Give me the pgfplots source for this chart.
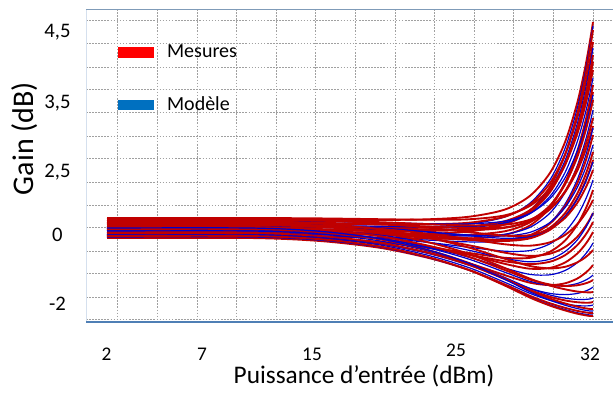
\documentclass[border=0pt]{standalone}
\usepackage{fontspec}
\setmainfont{Carlito}
\usepackage{pgfplots}
\usepackage{pgfplotstable}
\pgfplotsset{compat=1.18}
\definecolor{mred}{HTML}{C00000}
\definecolor{mblue}{HTML}{0000CC}
\definecolor{legred}{HTML}{FF0000}
\definecolor{legblue}{HTML}{0070C0}
\definecolor{gridgray}{HTML}{A0A0A0}
\definecolor{axblue}{HTML}{4F7FB5}
\definecolor{topblue}{HTML}{7F9BB8}
\definecolor{leftblue}{HTML}{D5E0EE}

% x = horizontal chart position, r = measured curves, b = model curves (vertical position, downward)
\pgfplotstableread{
x r1 r2 r3 r4 r5 r6 r7 r8 r9 r10 r11 r12 r13 r14 r15 r16 r17 r18 r19 r20 r21 r22 b1 b2 b3 b4 b5 b6 b7 b8 b9 b10 b11 b12 b13 b14 r23 r24 r25 r26 r27 r28 b15 b16 b17
107 220 234 224 230 218 236 226 222 232 228 219 237 225 231 221 235 227 223 233 229 238 236 227 229 225 231 226 233 228 230 229 234 231 235 228 237 227 233 220 230 224 236 221 235 224
250 220 234 224 230 218 236 226 222 232 228 219 237 225 231 221 235 227 223 233 229 238 236 227 229 225 231 226 233 228 230 229 234 231 235 228 237 227 233 220 230 224 236 221 235 224
320 220 234.1 224.2 230.2 218.4 236.5 226.6 222.8 232.9 229.1 220.4 238.6 227.0 233.3 223.6 237.7 229.8 225.9 236.0 232.2 241.0 239.2 227.0 229.2 225.4 231.7 227.0 234.5 230.2 232.6 231.9 237.0 234.0 238.1 231.3 240.1 227.2 233.4 220.7 231.0 225.5 237.8 221.5 235.8 225.2
380 220 234.3 224.5 230.8 219.2 237.6 228.0 224.5 235.0 231.6 223.4 242.3 231.5 238.5 229.3 243.8 236.2 232.5 242.8 239.4 247.8 246.4 227.1 229.7 226.3 233.2 229.3 237.8 235.2 238.6 238.4 243.6 240.9 245.0 238.8 247.1 227.7 234.3 222.2 233.4 228.9 242.0 222.6 237.7 228.0
430 219.2 233.7 224.3 230.9 219.8 238.6 229.5 226.6 237.7 235.1 227.9 247.7 238.3 246.4 238.1 253.2 246.1 242.7 253.2 250.6 258.3 257.6 226.5 229.6 227.1 235.0 232.3 242.6 242.6 247.6 248.3 253.9 251.5 255.8 250.4 258.1 227.7 235.1 224.2 236.6 234.0 248.2 223.7 240.2 232.0
470 216.6 231.4 222.6 229.5 219.2 238.4 230.1 228.1 239.9 238.3 232.2 253.1 245.5 255.0 247.9 263.6 257.2 254.3 265.2 263.4 270.3 270.4 224.0 228.0 226.6 236.0 235.0 247.4 250.5 257.5 259.5 265.5 263.5 268.0 263.7 270.5 226.3 234.7 225.4 239.6 239.3 254.8 223.8 241.9 235.8
505 209.5 224.3 216.6 224.1 215.3 234.8 227.8 227.3 239.9 239.9 235.7 257.8 252.7 263.9 258.8 275.2 270.1 268.1 279.2 278.6 284.5 285.6 216.9 222.2 222.9 234.2 235.9 251.2 258.4 268.1 272.3 278.8 277.6 282.4 279.5 285.4 221.1 231.2 224.7 241.0 244.3 261.3 221.1 241.2 238.3
530 195.8 210.4 204.4 212.5 205.8 225.4 220.4 221.6 235.1 236.9 235.1 257.8 255.9 268.7 266.0 282.7 279.5 278.7 290.0 290.6 295.8 297.6 203.1 210.2 213.6 227.3 232.3 250.5 261.8 274.4 281.3 288.4 288.4 293.4 291.9 297.1 210.1 222.3 219.6 238.3 245.7 264.1 213.4 235.6 236.5
550 172.9 186.7 183.2 192.1 188.5 207.7 205.5 209.3 223.5 227.6 228.8 251.7 253.7 267.9 268.4 285.1 284.5 285.6 296.8 298.6 303.3 305.6 179.8 189.1 196.3 213.0 222.5 243.8 259.2 274.8 285.5 293.4 295.0 300.3 300.2 304.9 190.9 205.8 208.4 229.8 242.3 261.7 198.6 222.8 228.8
565 142.2 154.9 154.6 164.5 164.7 183.1 184.5 191.3 206.2 213.2 218.0 240.6 247.1 262.5 266.8 283.3 286.0 289.3 300.4 303.4 307.8 310.4 148.5 160.6 172.6 192.6 207.6 232.0 251.6 270.5 285.7 294.6 298.1 303.9 305.2 309.5 164.8 183.0 192.2 216.5 235.0 255.2 177.9 204.2 216.3
577 103.8 115.0 118.7 129.6 134.6 152.0 157.8 168.2 183.9 194.1 203.3 225.1 237.1 253.8 262.5 278.7 285.3 291.5 302.2 306.6 310.8 313.6 109.4 124.7 142.5 166.5 188.0 216.1 240.3 262.9 283.6 293.5 299.4 305.6 308.5 312.7 132.1 154.1 171.3 198.9 224.5 245.4 151.6 180.2 199.5
585 68.3 78.2 85.5 97.3 106.6 123.0 132.9 146.6 162.9 176.1 189.1 210.2 227.0 244.8 257.6 273.2 283.5 292.2 302.7 308.2 312.3 315.2 73.3 91.5 114.6 142.1 169.6 200.7 228.8 254.7 280.4 291.2 299.4 305.9 310.2 314.2 101.8 127.2 151.8 182.2 214.1 235.6 127.2 157.7 183.5
590 40.8 49.6 59.7 72.2 84.9 100.5 113.4 129.7 146.4 161.9 177.9 198.4 218.9 237.4 253.3 268.6 281.7 292.4 302.6 309 313 316 45.2 65.7 92.9 123.1 155.1 188.6 219.7 248.0 277.5 289.0 298.9 305.7 311 315 78.1 106.3 136.5 169.1 205.9 227.7 108.1 140.2 170.8
593 22 30 42 55 70 85 100 118 135 152 170 190 213 232 250 265 280 292 302 309 313 316 26 48 78 110 145 180 213 243 275 287 298 305 311 315 62 92 126 160 200 222 95 128 162
}\curves

\pgfplotsset{
  meas/.style={mred, line width=1.4pt, forget plot},
  modl/.style={mblue, line width=0.9pt, forget plot},
}

\begin{document}
\begin{tikzpicture}
\path[use as bounding box] (0pt,0pt) rectangle (459.75pt,303.75pt);
\begin{axis}[
  at={(64.5pt,62.25pt)}, anchor=south west,
  scale only axis, width=395.25pt, height=234.75pt,
  xmin=86, xmax=613, ymin=9, ymax=322, y dir=reverse,
  axis line style={draw=none},
  xtick={106.5,202,312,456,590},
  xticklabels={2,7,15,\raisebox{3pt}{25},32},
  ytick={37,108,177,241,310},
  yticklabels={{4,5},{3,5},{2,5},0,-2},
  major tick length=0pt, minor tick length=0pt,
  minor xtick={117.7,157.3,196.9,236.5,276.1,315.7,355.3,394.9,434.5,474.1,513.7,553.3,592.9},
  minor ytick={20,43,67,89,112,136,158,182,205,227,251,273,297,319},
  grid=minor,
  minor grid style={gridgray, dash pattern=on 1.2pt off 1.1pt, line width=0.55pt},
  xticklabel style={font=\fontsize{14.5}{17}\selectfont, anchor=base, yshift=-28.5pt},
  yticklabel style={font=\fontsize{15.5}{18}\selectfont, anchor=base, xshift=-21.4pt},
  xlabel={Puissance d’entrée (dBm)},
  xlabel style={font=\fontsize{19}{22}\selectfont, at={(axis cs:364,383)}, anchor=base},
  ylabel={Gain (dB)},
  ylabel style={font=\fontsize{22.5}{26}\selectfont, at={(axis cs:24.5,138.5)}, anchor=center},
  legend style={at={(axis cs:118,42)}, anchor=north west, draw=none, fill=none,
    inner sep=0pt, row sep=24pt, font=\fontsize{15}{18}\selectfont,
    /tikz/every odd column/.append style={column sep=8pt}},
  legend cell align=left,
  legend image code/.code={\fill[#1] (0pt,-3.5pt) rectangle (26.25pt,3.5pt);},
  every axis plot/.append style={smooth, tension=0.5},
]
\addlegendimage{color=legred}
\addlegendentry{Mesures}
\addlegendimage{color=legblue}
\addlegendentry{Modèle}

\addplot[meas] table[x=x,y=r1] {\curves};
\addplot[modl] table[x=x,y=b1] {\curves};
\addplot[meas] table[x=x,y=r2] {\curves};
\addplot[meas] table[x=x,y=r3] {\curves};
\addplot[modl] table[x=x,y=b2] {\curves};
\addplot[meas] table[x=x,y=r4] {\curves};
\addplot[meas] table[x=x,y=r23] {\curves};
\addplot[meas] table[x=x,y=r5] {\curves};
\addplot[modl] table[x=x,y=b3] {\curves};
\addplot[meas] table[x=x,y=r6] {\curves};
\addplot[meas] table[x=x,y=r24] {\curves};
\addplot[modl] table[x=x,y=b15] {\curves};
\addplot[meas] table[x=x,y=r7] {\curves};
\addplot[modl] table[x=x,y=b4] {\curves};
\addplot[meas] table[x=x,y=r8] {\curves};
\addplot[meas] table[x=x,y=r25] {\curves};
\addplot[modl] table[x=x,y=b16] {\curves};
\addplot[meas] table[x=x,y=r9] {\curves};
\addplot[modl] table[x=x,y=b5] {\curves};
\addplot[meas] table[x=x,y=r10] {\curves};
\addplot[meas] table[x=x,y=r26] {\curves};
\addplot[modl] table[x=x,y=b17] {\curves};
\addplot[meas] table[x=x,y=r11] {\curves};
\addplot[modl] table[x=x,y=b6] {\curves};
\addplot[meas] table[x=x,y=r12] {\curves};
\addplot[meas] table[x=x,y=r27] {\curves};
\addplot[meas] table[x=x,y=r13] {\curves};
\addplot[modl] table[x=x,y=b7] {\curves};
\addplot[meas] table[x=x,y=r28] {\curves};
\addplot[meas] table[x=x,y=r14] {\curves};
\addplot[modl] table[x=x,y=b8] {\curves};
\addplot[meas] table[x=x,y=r15] {\curves};
\addplot[meas] table[x=x,y=r16] {\curves};
\addplot[modl] table[x=x,y=b9] {\curves};
\addplot[meas] table[x=x,y=r17] {\curves};
\addplot[modl] table[x=x,y=b10] {\curves};
\addplot[meas] table[x=x,y=r18] {\curves};
\addplot[modl] table[x=x,y=b11] {\curves};
\addplot[meas] table[x=x,y=r19] {\curves};
\addplot[modl] table[x=x,y=b12] {\curves};
\addplot[meas] table[x=x,y=r20] {\curves};
\addplot[modl] table[x=x,y=b13] {\curves};
\addplot[meas] table[x=x,y=r21] {\curves};
\addplot[modl] table[x=x,y=b14] {\curves};
\addplot[meas] table[x=x,y=r22] {\curves};

\draw[leftblue, line width=0.6pt] (axis cs:86,9) -- (axis cs:86,322);
\draw[topblue, line width=1pt] (axis cs:86,9.5) -- (axis cs:613,9.5);
\draw[axblue, line width=1.3pt] (axis cs:86,322) -- (axis cs:613,322);
\end{axis}
\end{tikzpicture}
\end{document}
